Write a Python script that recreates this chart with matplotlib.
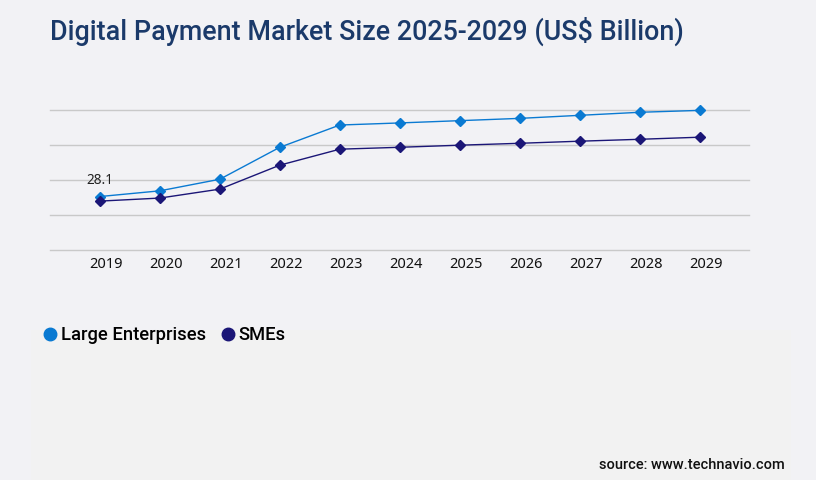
import matplotlib.pyplot as plt
import matplotlib.transforms as mtransforms
from matplotlib.lines import Line2D
from matplotlib.patches import Rectangle
import numpy as np

years = ["2019", "2020", "2021", "2022", "2023", "2024", "2025", "2026", "2027", "2028", "2029"]
large_enterprises = [28.1, 31.1, 37.2, 54.0, 65.7, 66.8, 68.0, 69.2, 70.8, 72.4, 73.4]
smes = [25.7, 27.3, 32.0, 44.6, 53.0, 54.0, 55.1, 56.1, 57.2, 58.2, 59.3]
series_names = ["Large Enterprises", "SMEs"]
series_colors = ["#0a7ad2", "#1b1677"]

BG = "#f2f2f5"

fig = plt.figure(figsize=(8.16, 4.8), dpi=100, facecolor=BG)
# lighter panel behind legend / source
fig.patches.append(Rectangle((31 / 816, 0), 760 / 816, 150 / 480, transform=fig.transFigure,
                             facecolor="#f2f2f2", edgecolor="none", zorder=0))

ax = fig.add_axes([50 / 816, 230 / 480, 699 / 816, 140 / 480])
ax.set_facecolor("none")

x = np.arange(len(years))
for vals, name, col in zip([large_enterprises, smes], series_names, series_colors):
  ax.plot(x, vals, color=col, lw=1.0, marker="D", markersize=5.5, clip_on=False, zorder=3, label=name)

# value label on first point
ax.text(x[0], large_enterprises[0] + 4.3, f"{large_enterprises[0]}", ha="center", va="bottom",
        fontsize=9.8, color="#222222", family="Noto Sans")

ymax = 73.6
ax.set_ylim(0, ymax)
for v in np.linspace(0, ymax, 5):
  ax.axhline(v, color="#c9c9c9", lw=1, clip_on=False, zorder=1)
ax.set_yticks([])
ax.set_xlim(-0.83, 10.82)
ax.set_xticks(x)
ax.set_xticklabels(years, fontsize=10.5, family="Noto Sans", color="#111111")
ax.tick_params(axis="x", length=0, pad=5)
# labels sit a little right of the points in the reference
offset = mtransforms.ScaledTranslation(6 / 100, 0, fig.dpi_scale_trans)
for lbl in ax.get_xticklabels():
  lbl.set_transform(lbl.get_transform() + offset)
for s in ax.spines.values():
  s.set_visible(False)

fig.text(50 / 816, 1 - 31 / 480, "Digital Payment Market Size 2025-2029 (US$ Billion)",
         fontsize=19.4, family="Roboto", fontweight="medium", color="#1b3a6a", va="center", ha="left")

handles = [Line2D([], [], ls="none", marker="o", markersize=9, color=c) for c in series_colors]
fig.legend(handles, series_names, loc="center left", bbox_to_anchor=(24 / 816, 1 - 335 / 480),
           ncol=2, frameon=False, handletextpad=0.1, columnspacing=0.7, handlelength=1.0,
           prop={"family": "Roboto", "size": 13.2, "weight": "medium"})

fig.text(785 / 816, 1 - 465 / 480, "source: www.technavio.com", ha="right", va="center",
         fontsize=10.5, family="Roboto", fontweight="medium", color="#111111")

fig.savefig("out.png", dpi=100, facecolor=BG)
